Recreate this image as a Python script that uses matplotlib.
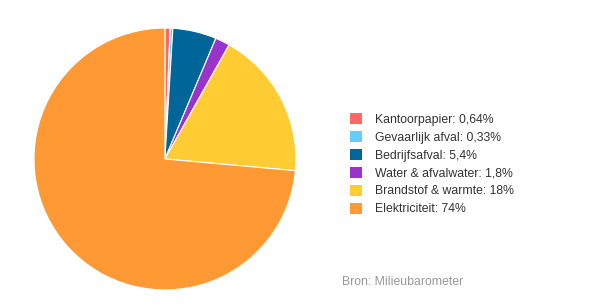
import matplotlib.pyplot as plt

plt.rcParams['font.family'] = ['Liberation Sans', 'DejaVu Sans']

labels = ['Kantoorpapier', 'Gevaarlijk afval', 'Bedrijfsafval', 'Water & afvalwater',
          'Brandstof & warmte', 'Elektriciteit']
values = [0.64, 0.33, 5.4, 1.8, 18.3, 73.7]
value_labels = ['0,64%', '0,33%', '5,4%', '1,8%', '18%', '74%']
colors = ['#ff6666', '#66ccff', '#006699', '#9933cc', '#ffcc33', '#ff9933']

fig = plt.figure(figsize=(6.09, 3.04), dpi=100)
ax = fig.add_axes([0.0558, 0.046, 0.430, 0.862])
wedges, _ = ax.pie(values, colors=colors, startangle=90, counterclock=False,
                   radius=1, wedgeprops=dict(edgecolor='white', linewidth=0.8))
ax.set_xlim(-1, 1)
ax.set_ylim(-1, 1)
ax.set_aspect('equal')

leg_labels = [f'{l}: {v}' for l, v in zip(labels, value_labels)]
leg = fig.legend(wedges, leg_labels, loc='upper left', bbox_to_anchor=(0.567, 0.644),
                 frameon=False, fontsize=8.8, handlelength=0.95, handleheight=0.95,
                 handletextpad=1.05, labelspacing=0.45, borderaxespad=0)
for t in leg.get_texts():
    t.set_color('#333333')
for h in leg.legend_handles:
    h.set_edgecolor('none')

fig.text(0.562, 0.072, 'Bron: Milieubarometer', fontsize=8.8, color='#999999',
         ha='left', va='center')

fig.savefig('out.png', dpi=100)
